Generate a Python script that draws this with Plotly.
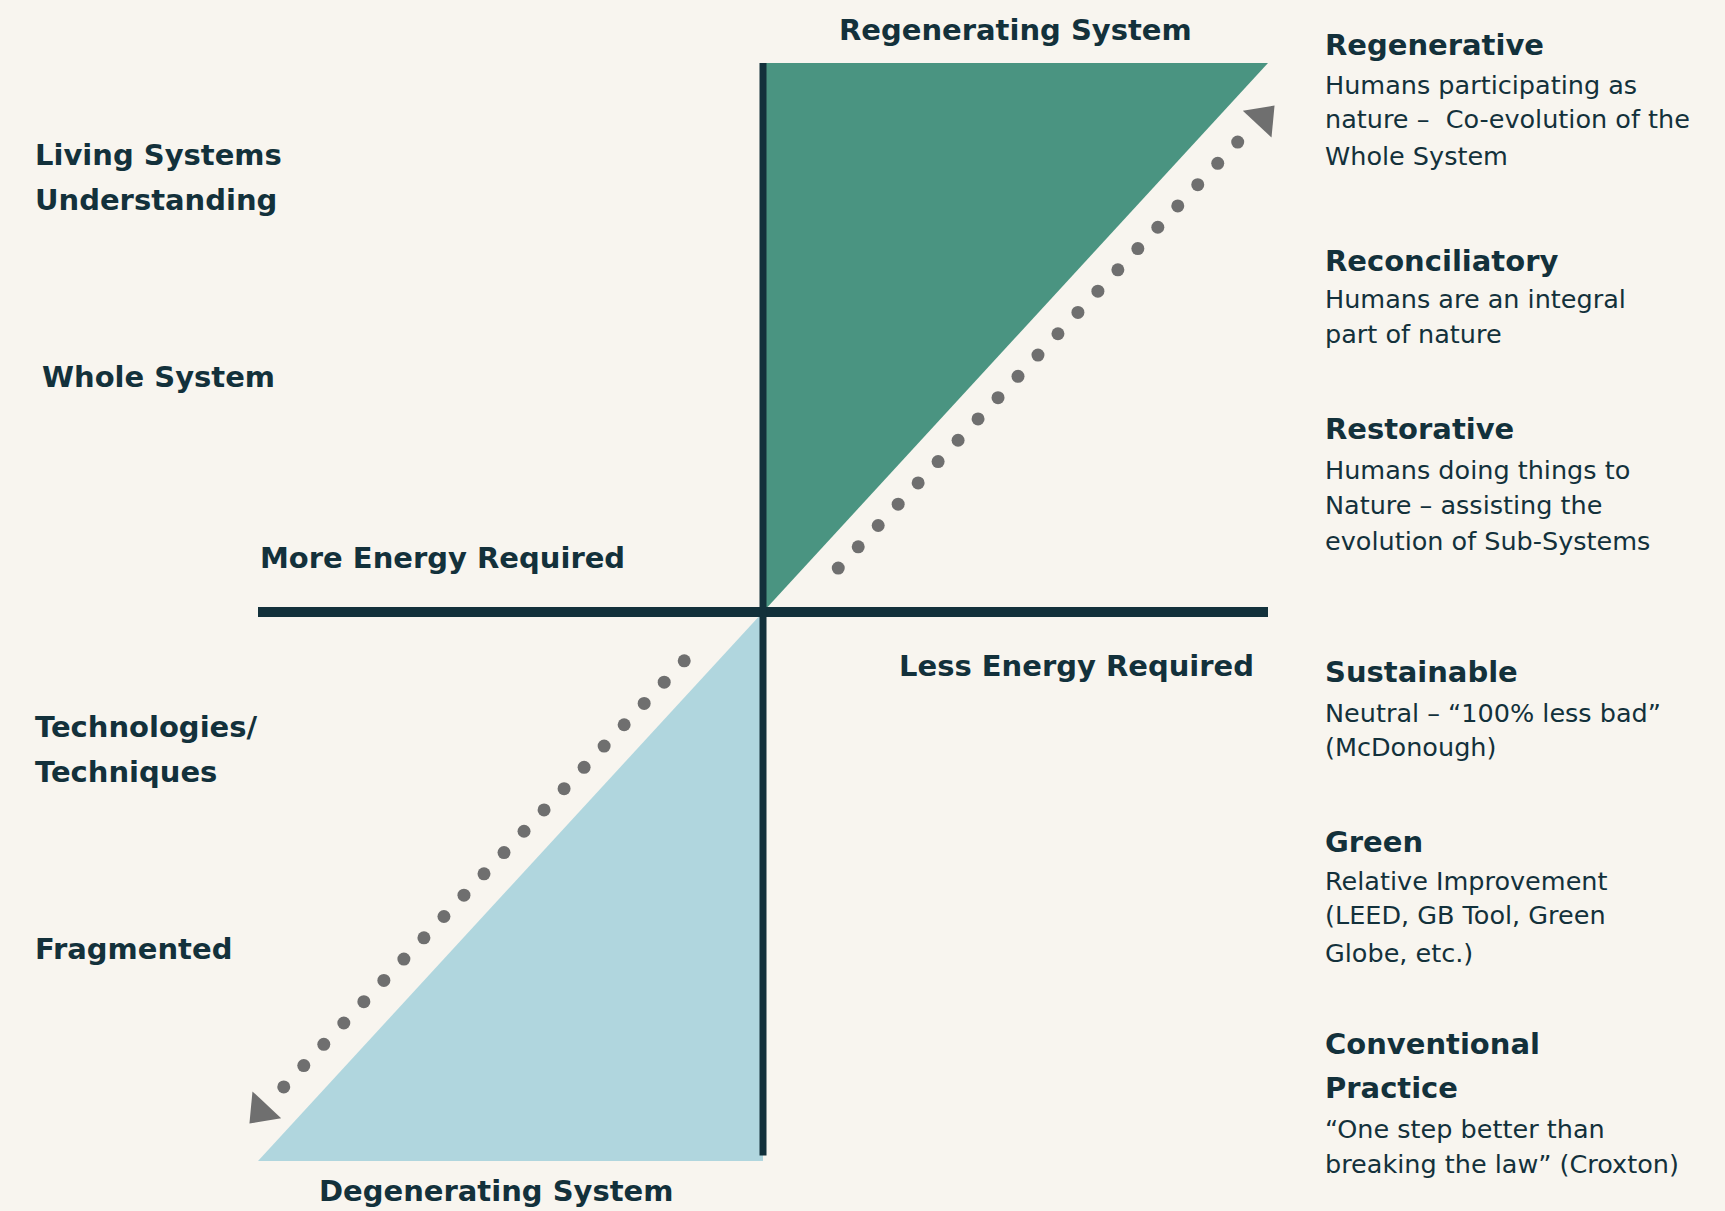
import numpy as np
import plotly.graph_objects as go

# ---- data (conceptual quadrant diagram) ----
regen_tri_x = [0, 0, 1, 0]
regen_tri_y = [0, 1, 1, 0]
degen_tri_x = [0, 0, -1, 0]
degen_tri_y = [0, -1, -1, 0]

h_axis_x = [-1, 1]
h_axis_y = [0, 0]
v_axis_x = [0, 0]
v_axis_y = [-0.99, 1]

up_arrow_start = (0.149, 0.080)
up_arrow_end = (0.940, 0.856)
up_arrow_head = (0.990, 0.900)
down_arrow_start = (-0.156, -0.089)
down_arrow_end = (-0.949, -0.865)
down_arrow_head = (-0.994, -0.909)
n_dots = 21

right_titles = ["Regenerative", "Reconciliatory", "Restorative", "Sustainable", "Green", "Conventional", "Practice"]
right_title_y = [45, 261, 429, 672, 842, 1044, 1088]
right_body = [
    "Humans participating as", "nature \u2013  Co-evolution of the", "Whole System",
    "Humans are an integral", "part of nature",
    "Humans doing things to", "Nature \u2013 assisting the", "evolution of Sub-Systems",
    "Neutral \u2013 \u201c100% less bad\u201d", "(McDonough)",
    "Relative Improvement", "(LEED, GB Tool, Green", "Globe, etc.)",
    "\u201cOne step better than", "breaking the law\u201d (Croxton)",
]
right_body_y = [85, 119, 156, 299, 334, 470, 505, 541, 713, 747, 881, 915, 953, 1129, 1164]

left_labels = ["Living Systems", "Understanding", "Whole System", "Technologies/", "Techniques", "Fragmented"]
left_label_x = [33, 33, 40, 33, 33, 33]
left_label_y = [155, 200, 377, 727, 772, 949]

# ---- style ----
W, H = 1725, 1211
BG = "#F8F5EF"
INK = "#13313B"
GREEN = "#4A9481"
BLUE = "#B0D6DE"
DOT = "#6F6F6F"
FONT = "DejaVu Sans"
HEAD = 29
BODY = 25.5
X0, Y0, SX, SY = 763, 612, 505, 549  # pixel position of origin and unit scale

fig = go.Figure()
fig.add_trace(go.Scatter(x=regen_tri_x, y=regen_tri_y, fill="toself", fillcolor=GREEN,
                         mode="lines", line=dict(width=0, color=GREEN), hoverinfo="skip"))
fig.add_trace(go.Scatter(x=degen_tri_x, y=degen_tri_y, fill="toself", fillcolor=BLUE,
                         mode="lines", line=dict(width=0, color=BLUE), hoverinfo="skip"))
fig.add_trace(go.Scatter(x=h_axis_x, y=h_axis_y, mode="lines", line=dict(width=10, color=INK), hoverinfo="skip"))
fig.add_trace(go.Scatter(x=v_axis_x, y=v_axis_y, mode="lines", line=dict(width=7, color=INK), hoverinfo="skip"))

for start, end, head, ang in [(up_arrow_start, up_arrow_end, up_arrow_head, 43),
                              (down_arrow_start, down_arrow_end, down_arrow_head, 223)]:
    xs = np.linspace(start[0], end[0], n_dots)
    ys = np.linspace(start[1], end[1], n_dots)
    fig.add_trace(go.Scatter(x=xs, y=ys, mode="markers",
                             marker=dict(size=13, color=DOT, line=dict(width=0)), hoverinfo="skip"))
    fig.add_trace(go.Scatter(x=[head[0]], y=[head[1]], mode="markers",
                             marker=dict(symbol="triangle-up", size=34, angle=ang, color=DOT, line=dict(width=0)),
                             hoverinfo="skip"))


def px(x):
    return x / W


def py(y):
    return 1 - y / H


def add_text(text, x, y, size, bold=False, xanchor="left"):
    fig.add_annotation(text=f"<b>{text}</b>" if bold else text, x=px(x), y=py(y), xref="paper", yref="paper",
                       xanchor=xanchor, yanchor="middle", showarrow=False,
                       font=dict(family=FONT, size=size, color=INK))


for t, y in zip(right_titles, right_title_y):
    add_text(t, 1323, y, HEAD, bold=True)
for t, y in zip(right_body, right_body_y):
    add_text(t, 1323, y, BODY)
for t, x, y in zip(left_labels, left_label_x, left_label_y):
    add_text(t, x, y, HEAD, bold=True)

add_text("More Energy Required", 258, 558, HEAD, bold=True)
add_text("Less Energy Required", 1256, 666, HEAD, bold=True, xanchor="right")
add_text("Regenerating System", 1016, 30, HEAD, bold=True, xanchor="center")
add_text("Degenerating System", 496, 1191, HEAD, bold=True, xanchor="center")

fig.update_layout(
    width=W, height=H, margin=dict(l=0, r=0, t=0, b=0),
    paper_bgcolor=BG, plot_bgcolor=BG, showlegend=False,
    xaxis=dict(range=[-X0 / SX, (W - X0) / SX], visible=False, fixedrange=True),
    yaxis=dict(range=[-(H - Y0) / SY, Y0 / SY], visible=False, fixedrange=True),
)
fig.write_html("out.html", config={"displayModeBar": False},
               post_script="document.body.style.margin='0';document.body.style.overflow='hidden';"
                           "document.body.style.background='" + BG + "';")
